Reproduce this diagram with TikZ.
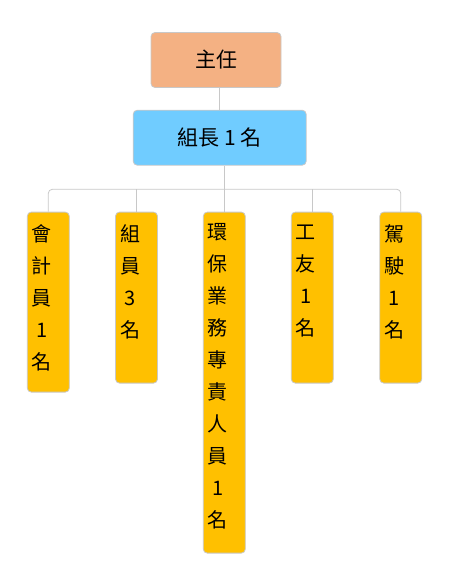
\documentclass[tikz,border=0pt]{standalone}
\usepackage{fontspec}
\newfontfamily\tcfont{Noto Sans CJK TC}
\usetikzlibrary{positioning,calc}
\definecolor{chiefclr}{RGB}{244,177,131}
\definecolor{leadclr}{RGB}{112,204,255}
\definecolor{staffclr}{RGB}{255,192,0}
\definecolor{edgeclr}{RGB}{200,200,200}
\tikzset{
  box/.style={draw=edgeclr, line width=0.8pt, rounded corners=4pt, inner sep=0pt},
  topbox/.style={box, minimum width=130pt, minimum height=55pt, font=\tcfont\fontsize{21}{24}\selectfont},
  colbox/.style={box, fill=staffclr, minimum width=42pt, anchor=north},
  coltext/.style={anchor=north, inner sep=0pt, align=center, font=\tcfont\fontsize{20}{32}\selectfont},
  link/.style={draw=edgeclr, line width=0.8pt},
}
\begin{document}
\begin{tikzpicture}[x=1pt,y=1pt]
    \useasboundingbox (0,0) rectangle (455,-567);
    % head boxes
    \node[topbox, fill=chiefclr] (chief) at (216,-60) {主任};
    \node[topbox, fill=leadclr, minimum width=173pt] (lead) at (219.7,-137.7) {組長 1 名};
    % columns
    \node[colbox, minimum height=180pt] (acct) at (48.3,-211.7) {};
    \node[colbox, minimum height=171pt] (staff) at (136.5,-211.7) {};
    \node[colbox, minimum height=341pt] (env) at (224.3,-211.7) {};
    \node[colbox, minimum height=171pt] (jan) at (312.3,-211.7) {};
    \node[colbox, minimum height=171pt] (drv) at (400.8,-211.7) {};
    \node[coltext] (acct-t) at ($(acct.north west)+(15,-13)$) {會\\計\\員\\1\\名};
    \node[coltext] (staff-t) at ($(staff.north west)+(15,-13)$) {組\\員\\3\\名};
    \node[coltext] (env-t) at ($(env.north west)+(15,-11)$) {環\\保\\業\\務\\專\\責\\人\\員\\1\\名};
    \node[coltext] (jan-t) at ($(jan.north west)+(15,-13)$) {工\\友\\1\\名};
    \node[coltext] (drv-t) at ($(drv.north west)+(15,-13)$) {駕\\駛\\1\\名};
    % connectors
    \coordinate (bus) at (0,-189.3);
    \draw[link] (lead.north) -- (lead.north |- chief.south);
    \draw[link] (lead.south -| env.north) -- (env.north);
    \draw[link, rounded corners=4pt] (acct.north) -- (acct.north |- bus) -| (drv.north);
    \draw[link] (staff.north |- bus) -- (staff.north);
    \draw[link] (jan.north |- bus) -- (jan.north);
\end{tikzpicture}
\end{document}
